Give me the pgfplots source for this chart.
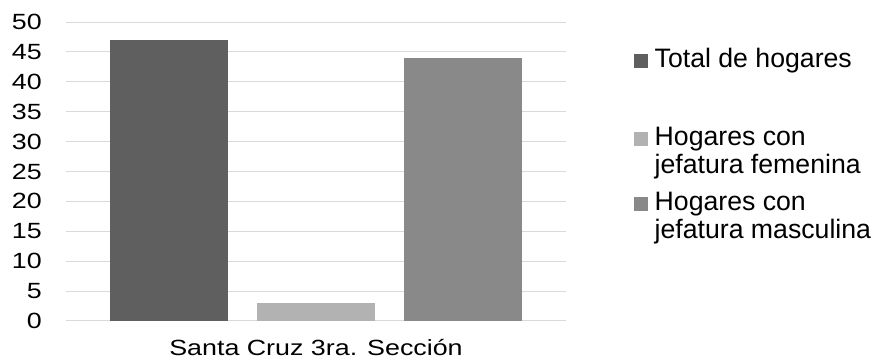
\documentclass[border=0pt]{standalone}
\usepackage{fontspec}
\setmainfont{Liberation Sans}
\newfontfamily\widefont{Liberation Sans}[FakeStretch=1.22]
\usepackage{pgfplots}
\pgfplotsset{compat=1.18}
\definecolor{darkbar}{HTML}{5F5F5F}
\definecolor{lightbar}{HTML}{B2B2B2}
\definecolor{midbar}{HTML}{898989}
\definecolor{gridgray}{HTML}{D9D9D9}

% legend squares; the invisible path sets the row's height and depth
\pgfplotsset{
    legone/.style={legend image code/.code={
        \fill[##1] (0pt,-0.4pt) rectangle (10.5pt,10.1pt);
        \path[draw=none,fill=none] (0pt,16pt) -- (0pt,-36.75pt);}},
    legtwo/.style={legend image code/.code={
        \fill[##1] (0pt,-0.4pt) rectangle (10.5pt,10.1pt);
        \path[draw=none,fill=none] (0pt,16pt) -- (0pt,-27pt);}},
}

\begin{document}
\begin{tikzpicture}
\path[use as bounding box] (0pt,0pt) rectangle (654.75pt,272.25pt);
\begin{axis}[
    at={(49.5pt,31.5pt)}, anchor=south west,
    scale only axis, width=375pt, height=224.25pt,
    xmin=-0.70, xmax=2.70,
    ymin=0, ymax=50,
    ytick={0,5,...,50},
    xtick={1}, xticklabels={Santa Cruz 3ra. Sección},
    axis line style={draw=none},
    major tick length=0pt,
    tick style={draw=none},
    ymajorgrids,
    grid style={draw=gridgray, line width=0.75pt},
    ybar, bar width=0.803, bar shift=0pt,
    /pgf/number format/assume math mode=true,
    yticklabel style={anchor=east, inner sep=0pt, xshift=-18pt,
        font=\widefont\fontsize{16.5}{19}\selectfont},
    xticklabel style={anchor=base, inner sep=0pt, yshift=-26.25pt,
        font=\widefont\fontsize{16.5}{19}\selectfont},
    legend style={
        at={(1.136,0.9208)}, anchor=north west,
        draw=none, fill=none, inner sep=0pt, outer sep=0pt,
        row sep=5.75pt, column sep=0pt,
        nodes={inner sep=0pt, anchor=base west},
        font=\fontsize{20}{21}\selectfont,
    },
    legend cell align=left,
]
\addplot[fill=darkbar, draw=none, legone] coordinates {(0,47)};
\addlegendentry{\hspace{5pt}Total de hogares}
\addplot[fill=lightbar, draw=none, legtwo] coordinates {(1,3)};
\addlegendentry{\hspace{5pt}\vtop{\hbox{Hogares con}\hbox{jefatura femenina}}}
\addplot[fill=midbar, draw=none, legtwo] coordinates {(2,44)};
\addlegendentry{\hspace{5pt}\vtop{\hbox{Hogares con}\hbox{jefatura masculina}}}
\end{axis}
\end{tikzpicture}
\end{document}
